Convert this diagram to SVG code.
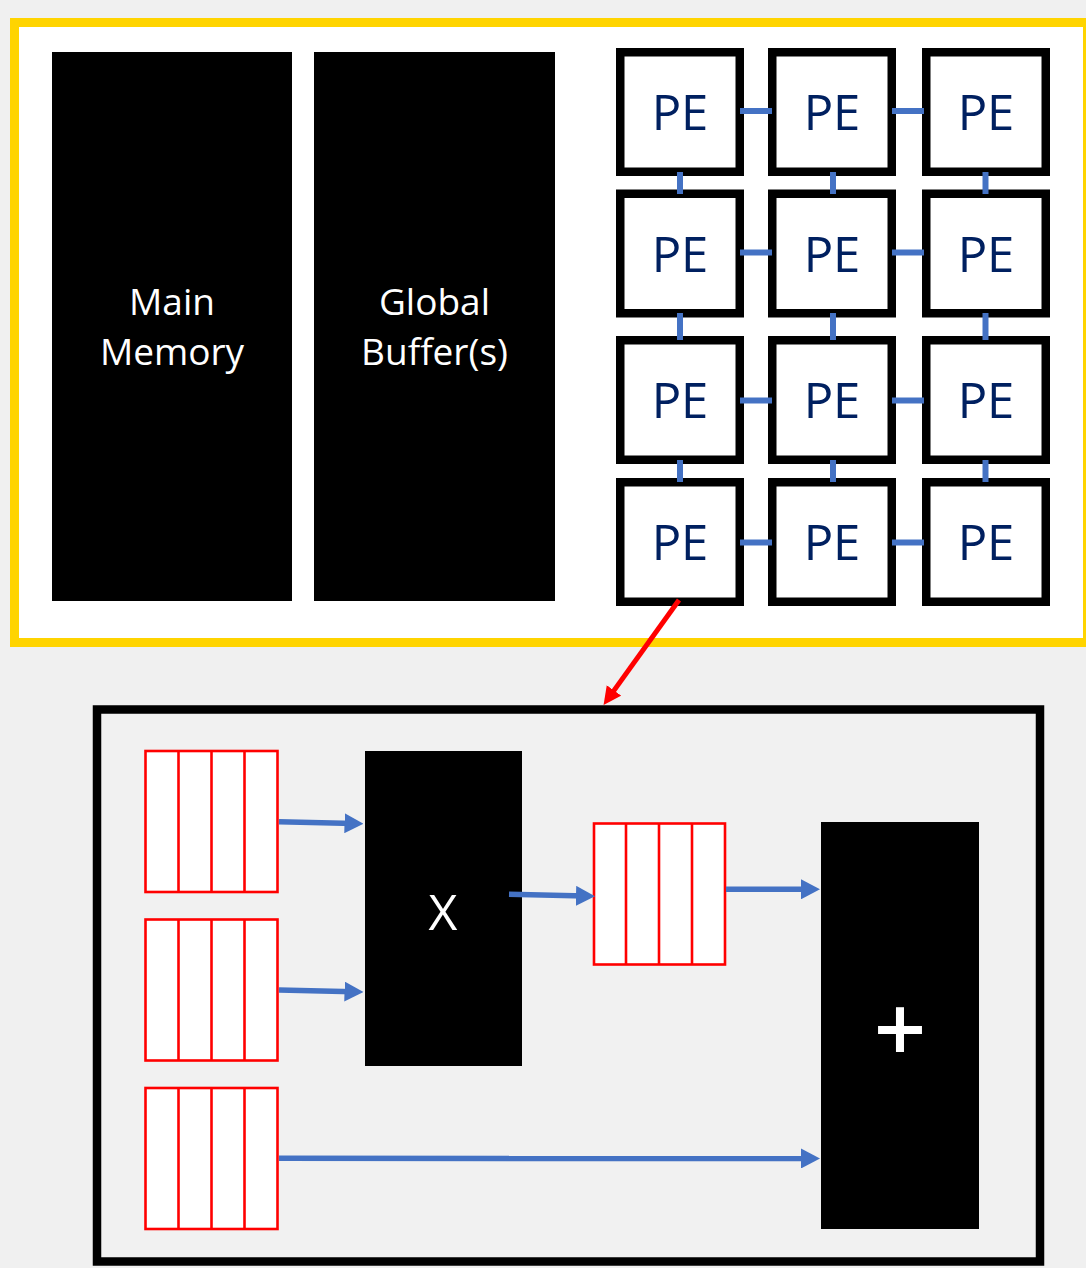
<svg xmlns="http://www.w3.org/2000/svg" width="1086" height="1268" viewBox="0 0 1086 1268">
  <defs>
    <style>
      .label { font-family: "Open Sans", "Liberation Sans", sans-serif; text-anchor: middle; }
      .mem { fill: #000000; }
      .memText { fill: #ffffff; font-size: 37px; }
      .pe rect { fill: #ffffff; stroke: #000000; stroke-width: 8.5; }
      .pe text { fill: #002060; font-size: 49px; }
      .queue rect { fill: #ffffff; stroke: #ff0000; stroke-width: 2.6; }
      .queue line { stroke: #ff0000; stroke-width: 2.6; }
      .link { stroke: #4472c4; stroke-width: 6; }
      .flow { stroke: #4472c4; stroke-width: 5.5; fill: none; marker-end: url(#blueHead); }
      .opText { fill: #ffffff; }
    </style>
    <marker id="blueHead" viewBox="0 0 19 20" refX="9" refY="10" markerWidth="19" markerHeight="20" markerUnits="userSpaceOnUse" orient="auto">
      <path d="M0,0 L19,10 L0,20 z" fill="#4472c4"/>
    </marker>
    <marker id="redHead" viewBox="0 0 18 18" refX="8" refY="9" markerWidth="18" markerHeight="18" markerUnits="userSpaceOnUse" orient="auto">
      <path d="M0,0 L18,9 L0,18 z" fill="#ff0000"/>
    </marker>
  </defs>

  <!-- page background -->
  <rect x="0" y="0" width="1086" height="1268" fill="#f0f0f0"/>

  <!-- accelerator chip outline -->
  <g id="chip">
    <rect x="14.5" y="22.5" width="1073" height="620" fill="#ffffff" stroke="#ffd400" stroke-width="9"/>
  </g>

  <!-- memory hierarchy -->
  <g id="main-memory">
    <rect class="mem" x="52" y="52" width="240" height="549"/>
    <text class="label memText" x="172" y="315">Main</text>
    <text class="label memText" x="172" y="365">Memory</text>
  </g>
  <g id="global-buffer">
    <rect class="mem" x="314" y="52" width="241" height="549"/>
    <text class="label memText" x="434.5" y="315">Global</text>
    <text class="label memText" x="434.5" y="365">Buffer(s)</text>
  </g>

  <!-- 4 x 3 processing element array -->
  <g id="pe-r1c1" class="pe" transform="translate(616,48)"><rect x="4.25" y="4.25" width="119.5" height="119.5"/><text class="label" x="64" y="82">PE</text></g>
  <g id="pe-r1c2" class="pe" transform="translate(768,48)"><rect x="4.25" y="4.25" width="119.5" height="119.5"/><text class="label" x="64" y="82">PE</text></g>
  <g id="pe-r1c3" class="pe" transform="translate(922,48)"><rect x="4.25" y="4.25" width="119.5" height="119.5"/><text class="label" x="64" y="82">PE</text></g>
  <g id="pe-r2c1" class="pe" transform="translate(616,189.5)"><rect x="4.25" y="4.25" width="119.5" height="119.5"/><text class="label" x="64" y="82">PE</text></g>
  <g id="pe-r2c2" class="pe" transform="translate(768,189.5)"><rect x="4.25" y="4.25" width="119.5" height="119.5"/><text class="label" x="64" y="82">PE</text></g>
  <g id="pe-r2c3" class="pe" transform="translate(922,189.5)"><rect x="4.25" y="4.25" width="119.5" height="119.5"/><text class="label" x="64" y="82">PE</text></g>
  <g id="pe-r3c1" class="pe" transform="translate(616,336)"><rect x="4.25" y="4.25" width="119.5" height="119.5"/><text class="label" x="64" y="82">PE</text></g>
  <g id="pe-r3c2" class="pe" transform="translate(768,336)"><rect x="4.25" y="4.25" width="119.5" height="119.5"/><text class="label" x="64" y="82">PE</text></g>
  <g id="pe-r3c3" class="pe" transform="translate(922,336)"><rect x="4.25" y="4.25" width="119.5" height="119.5"/><text class="label" x="64" y="82">PE</text></g>
  <g id="pe-r4c1" class="pe" transform="translate(616,478)"><rect x="4.25" y="4.25" width="119.5" height="119.5"/><text class="label" x="64" y="82">PE</text></g>
  <g id="pe-r4c2" class="pe" transform="translate(768,478)"><rect x="4.25" y="4.25" width="119.5" height="119.5"/><text class="label" x="64" y="82">PE</text></g>
  <g id="pe-r4c3" class="pe" transform="translate(922,478)"><rect x="4.25" y="4.25" width="119.5" height="119.5"/><text class="label" x="64" y="82">PE</text></g>

  <!-- PE detail view -->
  <g id="pe-detail">
    <rect x="97" y="709.5" width="943" height="552" fill="#f1f1f1" stroke="#000000" stroke-width="8.5"/>
  </g>

  <!-- operand FIFOs -->
  <g id="fifo-a" class="queue">
    <rect x="145.5" y="751" width="132" height="141"/>
    <line x1="178.5" y1="751" x2="178.5" y2="892"/>
    <line x1="211.5" y1="751" x2="211.5" y2="892"/>
    <line x1="244.5" y1="751" x2="244.5" y2="892"/>
  </g>
  <g id="fifo-b" class="queue">
    <rect x="145.5" y="919.5" width="132" height="141"/>
    <line x1="178.5" y1="919.5" x2="178.5" y2="1060.5"/>
    <line x1="211.5" y1="919.5" x2="211.5" y2="1060.5"/>
    <line x1="244.5" y1="919.5" x2="244.5" y2="1060.5"/>
  </g>
  <g id="fifo-c" class="queue">
    <rect x="145.5" y="1088" width="132" height="141"/>
    <line x1="178.5" y1="1088" x2="178.5" y2="1229"/>
    <line x1="211.5" y1="1088" x2="211.5" y2="1229"/>
    <line x1="244.5" y1="1088" x2="244.5" y2="1229"/>
  </g>
  <g id="fifo-product" class="queue">
    <rect x="594" y="823.5" width="131" height="141"/>
    <line x1="626" y1="823.5" x2="626" y2="964.5"/>
    <line x1="659" y1="823.5" x2="659" y2="964.5"/>
    <line x1="692" y1="823.5" x2="692" y2="964.5"/>
  </g>

  <!-- arithmetic units -->
  <g id="multiplier">
    <rect class="mem" x="365" y="751" width="157" height="315"/>
    <text class="label opText" x="443" y="930" font-size="50">X</text>
  </g>
  <g id="adder">
    <rect class="mem" x="821" y="822" width="158" height="407"/>
    <text class="label opText" x="900" y="1062" font-size="92" font-weight="600">+</text>
  </g>

  <!-- connectors -->
  <g id="connectors">
    <!-- mesh links, horizontal -->
    <line class="link" x1="740" y1="111" x2="772" y2="111"/>
    <line class="link" x1="892" y1="111" x2="924" y2="111"/>
    <line class="link" x1="740" y1="252.5" x2="772" y2="252.5"/>
    <line class="link" x1="892" y1="252.5" x2="924" y2="252.5"/>
    <line class="link" x1="740" y1="400.5" x2="772" y2="400.5"/>
    <line class="link" x1="892" y1="400.5" x2="924" y2="400.5"/>
    <line class="link" x1="740" y1="542.5" x2="772" y2="542.5"/>
    <line class="link" x1="892" y1="542.5" x2="924" y2="542.5"/>
    <!-- mesh links, vertical -->
    <line class="link" x1="680" y1="172" x2="680" y2="194"/>
    <line class="link" x1="833" y1="172" x2="833" y2="194"/>
    <line class="link" x1="985.5" y1="172" x2="985.5" y2="194"/>
    <line class="link" x1="680" y1="313" x2="680" y2="340"/>
    <line class="link" x1="833" y1="313" x2="833" y2="340"/>
    <line class="link" x1="985.5" y1="313" x2="985.5" y2="340"/>
    <line class="link" x1="680" y1="460" x2="680" y2="482"/>
    <line class="link" x1="833" y1="460" x2="833" y2="482"/>
    <line class="link" x1="985.5" y1="460" x2="985.5" y2="482"/>

    <!-- zoom from one PE into its datapath -->
    <line x1="679" y1="600" x2="609.4" y2="696.9" stroke="#ff0000" stroke-width="5" marker-end="url(#redHead)"/>

    <!-- datapath flows -->
    <line class="flow" x1="279" y1="821.7" x2="353.5" y2="823.5"/>
    <line class="flow" x1="279" y1="990" x2="353.5" y2="991.8"/>
    <line class="flow" x1="509" y1="894.3" x2="585" y2="896"/>
    <line class="flow" x1="726" y1="889.3" x2="810" y2="889.3"/>
    <line class="flow" x1="279" y1="1158.3" x2="810" y2="1158.5"/>
  </g>
</svg>
